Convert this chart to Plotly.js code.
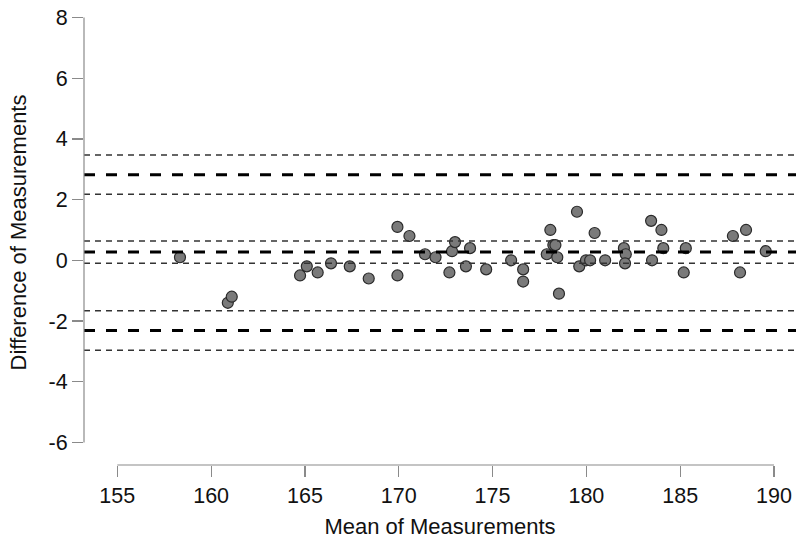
<!DOCTYPE html>
<html>
<head>
<meta charset="utf-8">
<script src="https://cdn.plot.ly/plotly-3.0.1.min.js"></script>
<style>html,body{margin:0;padding:0;background:#fff;}#chart{width:796px;height:546px;}</style>
</head>
<body>
<div id="chart"></div>
<script>
// Bland-Altman data
var means = [158.34,160.89,161.10,164.74,165.10,165.68,166.39,167.39,168.40,169.93,169.93,170.57,171.40,171.96,172.70,172.84,173.00,173.58,173.80,174.66,175.99,176.63,176.63,177.89,178.08,178.24,178.35,178.45,178.54,179.50,179.62,179.98,180.20,180.44,181.00,182.00,182.10,182.06,183.45,183.50,184.00,184.10,185.19,185.30,187.81,188.19,188.51,189.56];
var diffs = [0.1,-1.4,-1.2,-0.5,-0.2,-0.4,-0.1,-0.2,-0.6,1.1,-0.5,0.8,0.2,0.1,-0.4,0.3,0.6,-0.2,0.4,-0.3,0.0,-0.3,-0.7,0.2,1.0,0.5,0.5,0.1,-1.1,1.6,-0.2,0.0,0.0,0.9,0.0,0.4,0.2,-0.1,1.3,0.0,1.0,0.4,-0.4,0.4,0.8,-0.4,1.0,0.3];
var mainLines = [2.82, 0.27, -2.31];          // upper LoA, bias, lower LoA
var ciLines = [3.47, 2.18, 0.64, -0.10, -1.66, -2.96]; // confidence bounds
var xTicks = [155,160,165,170,175,180,185,190];
var yTicks = [-6,-4,-2,0,2,4,6,8];

var shapes = [];
mainLines.forEach(function(v){
  shapes.push({type:'line', xref:'paper', yref:'y', x0:0, x1:1, y0:v, y1:v,
    line:{color:'#000', width:3, dash:'11px,11px'}});
});
ciLines.forEach(function(v){
  shapes.push({type:'line', xref:'paper', yref:'y', x0:0, x1:1, y0:v, y1:v,
    line:{color:'#333', width:1.5, dash:'6px,5px'}});
});
// R-style axis lines spanning first to last tick
shapes.push({type:'line', xref:'x', yref:'paper', x0:xTicks[0], x1:xTicks[xTicks.length-1], y0:0, y1:0,
  line:{color:'#8a8a8a', width:1.2}});
shapes.push({type:'line', xref:'paper', yref:'y', x0:0, x1:0, y0:yTicks[0], y1:yTicks[yTicks.length-1],
  line:{color:'#8a8a8a', width:1.2}});

var trace = {
  x: means, y: diffs, type:'scatter', mode:'markers',
  marker:{color:'#7a7a7a', size:11, line:{color:'#2a2a2a', width:1.2}},
  hoverinfo:'x+y'
};

var tickFont = {family:'Arial, "Liberation Sans", sans-serif', size:21.5, color:'#111'};
var titleFont = {family:'Arial, "Liberation Sans", sans-serif', size:22, color:'#111'};
var layout = {
  width:796, height:546,
  margin:{l:84, r:0, t:0, b:81, pad:0},
  paper_bgcolor:'#fff', plot_bgcolor:'#fff',
  showlegend:false,
  font: tickFont,
  xaxis:{range:[153.225,191.173], tickvals:xTicks, ticktext:xTicks.map(String),
    showgrid:false, zeroline:false, showline:false, ticks:'outside', ticklen:11, tickwidth:1.2, tickcolor:'#8a8a8a',
    tickfont:tickFont, title:{text:'Mean of Measurements', font:titleFont, standoff:11}},
  yaxis:{range:[-6.745,8.577], tickvals:yTicks, ticktext:yTicks.map(String),
    showgrid:false, zeroline:false, showline:false, ticks:'outside', ticklen:11, tickwidth:1.2, tickcolor:'#8a8a8a',
    tickfont:tickFont, title:{text:'Difference of Measurements', font:titleFont, standoff:15}},
  shapes: shapes
};
Plotly.newPlot('chart', [trace], layout, {displayModeBar:false, staticPlot:true});
</script>
</body>
</html>
